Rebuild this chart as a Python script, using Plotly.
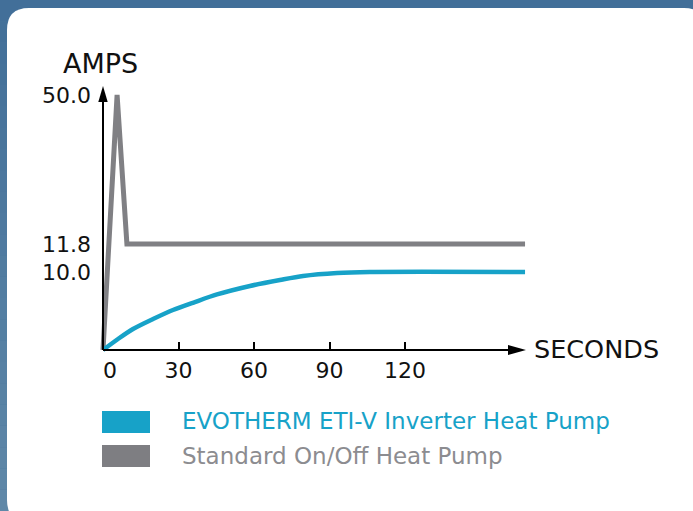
import numpy as np
import plotly.graph_objects as go

# ---------------- data ----------------
inverter_seconds = [0, 5.96, 11.92, 19.87, 27.8, 36.5, 45.3, 58.4, 70.3, 79.5, 93, 106, 167.7]
inverter_amps = [0, 1.41, 2.69, 3.97, 5.13, 6.15, 7.12, 8.21, 8.97, 9.49, 9.87, 10.0, 10.0]

standard_seconds = [0, 5.6, 9.5, 167.7]
standard_amps = [0, 50.0, 11.8, 11.8]

x_ticks = [0, 30, 60, 90, 120]
x_tick_labels = ["\u20070", "30", "60", "90", "120"]
y_ticks = [10.0, 11.8, 50.0]
y_tick_labels = ["10.0", "11.8", "50.0"]

series_names = ["EVOTHERM ETI-V Inverter Heat Pump", "Standard On/Off Heat Pump"]

# the drawn amps axis is not linear: break points of the picture's scale
scale_amps = [0, 10.0, 11.8, 50.0]
scale_pos = [0, 78, 106, 255]


def ymap(v):
    return np.interp(v, scale_amps, scale_pos)


# ---------------- style ----------------
W, H = 693, 511
BLUE = "#17a2c8"
GRAY = "#808084"
GRAY_TXT = "#8c8c90"
FONT = "DejaVu Sans"

ORIGIN_X, ORIGIN_Y = 103, 350      # pixel of the axes origin
K = 75.5 / 30                      # px per second


def P(x, y):
    return x / W, 1 - y / H


fig = go.Figure()

fig.add_trace(go.Scatter(x=standard_seconds, y=ymap(standard_amps), mode="lines",
                         line=dict(color=GRAY, width=5), name=series_names[1],
                         showlegend=False))
fig.add_trace(go.Scatter(x=inverter_seconds, y=ymap(inverter_amps), mode="lines",
                         line=dict(color=BLUE, width=4.5, shape="spline", smoothing=0.8),
                         name=series_names[0], showlegend=False))

shapes = []
# gradient background
n = 24
c0 = np.array([0x42, 0x6f, 0x99])
c1 = np.array([0x5f, 0x88, 0xa8])
for i in range(n):
    c = (c0 + (c1 - c0) * i / (n - 1)).astype(int)
    x0, y0 = P(0, H * i / n)
    x1, y1 = P(W, H * (i + 1) / n)
    shapes.append(dict(type="rect", xref="paper", yref="paper", x0=x0, x1=x1, y0=y1, y1=y0,
                       line=dict(width=0), fillcolor="rgb(%d,%d,%d)" % tuple(c), layer="below"))

# white rounded panel
px0, py0, px1, py1, r = 7, 8, 706, 522, 22


def pt(x, y):
    a, b = P(x, y)
    return f"{a:.5f},{b:.5f}"


path = (f"M{pt(px0 + r, py0)} L{pt(px1 - r, py0)} Q{pt(px1, py0)} {pt(px1, py0 + r)} "
        f"L{pt(px1, py1 - r)} Q{pt(px1, py1)} {pt(px1 - r, py1)} "
        f"L{pt(px0 + r, py1)} Q{pt(px0, py1)} {pt(px0, py1 - r)} "
        f"L{pt(px0, py0 + r)} Q{pt(px0, py0)} {pt(px0 + r, py0)} Z")
shapes.append(dict(type="path", xref="paper", yref="paper", path=path,
                   fillcolor="white", line=dict(width=0), layer="below"))


def sx(pxv):
    return (pxv - ORIGIN_X) / K


def sy(pyv):
    return ORIGIN_Y - pyv


# axis lines
shapes.append(dict(type="line", x0=0, x1=sx(510), y0=0, y1=0,
                   line=dict(color="black", width=2)))
shapes.append(dict(type="line", x0=0, x1=0, y0=0, y1=sy(100),
                   line=dict(color="black", width=2)))
# arrow heads
shapes.append(dict(type="path",
                   path=f"M{sx(526)},{sy(350)} L{sx(508)},{sy(345)} L{sx(508)},{sy(355)} Z",
                   fillcolor="black", line=dict(width=0)))
shapes.append(dict(type="path",
                   path=f"M{sx(103)},{sy(86)} L{sx(98.3)},{sy(102)} L{sx(107.7)},{sy(102)} Z",
                   fillcolor="black", line=dict(width=0)))

# legend squares
for (yy0, yy1), col in zip([(411, 433), (445, 467)], [BLUE, "#7e7e82"]):
    a0, b0 = P(102, yy0)
    a1, b1 = P(150, yy1)
    shapes.append(dict(type="rect", xref="paper", yref="paper", x0=a0, x1=a1, y0=b1, y1=b0,
                       fillcolor=col, line=dict(width=0)))

annotations = []


def text(s, x, y, size, color, xanchor="left"):
    a, b = P(x, y)
    annotations.append(dict(text=s, x=a, y=b, xref="paper", yref="paper", showarrow=False,
                            xanchor=xanchor, yanchor="middle",
                            font=dict(family=FONT, size=size, color=color)))


text("AMPS", 101, 63, 27, "#111111", "center")
text("SECONDS", 532, 349, 25.5, "#111111", "left")
text(series_names[0], 180, 421, 23, BLUE)
text(series_names[1], 180, 456, 23, GRAY_TXT)

fig.update_layout(
    width=W, height=H,
    margin=dict(l=0, r=0, t=0, b=0, autoexpand=False),
    paper_bgcolor="#4b769b", plot_bgcolor="rgba(0,0,0,0)",
    shapes=shapes, annotations=annotations, showlegend=False,
    xaxis=dict(range=[-ORIGIN_X / K, (W - ORIGIN_X) / K], anchor="free",
               position=(H - ORIGIN_Y) / H, showgrid=False, zeroline=False, showline=False,
               tickvals=x_ticks, ticktext=x_tick_labels, ticks="inside", ticklen=8,
               tickwidth=1.5, tickcolor="black", ticklabelstandoff=5,
               tickfont=dict(family=FONT, size=22, color="#111111")),
    yaxis=dict(range=[ORIGIN_Y - H, ORIGIN_Y], anchor="free", position=ORIGIN_X / W,
               showgrid=False, zeroline=False, showline=False,
               tickvals=list(ymap(y_ticks)), ticktext=y_tick_labels, ticks="",
               ticklabelstandoff=12,
               tickfont=dict(family=FONT, size=22, color="#111111")),
)

fig.write_html("out.html", post_script="document.body.style.margin='0';",
               config={"displayModeBar": False})
